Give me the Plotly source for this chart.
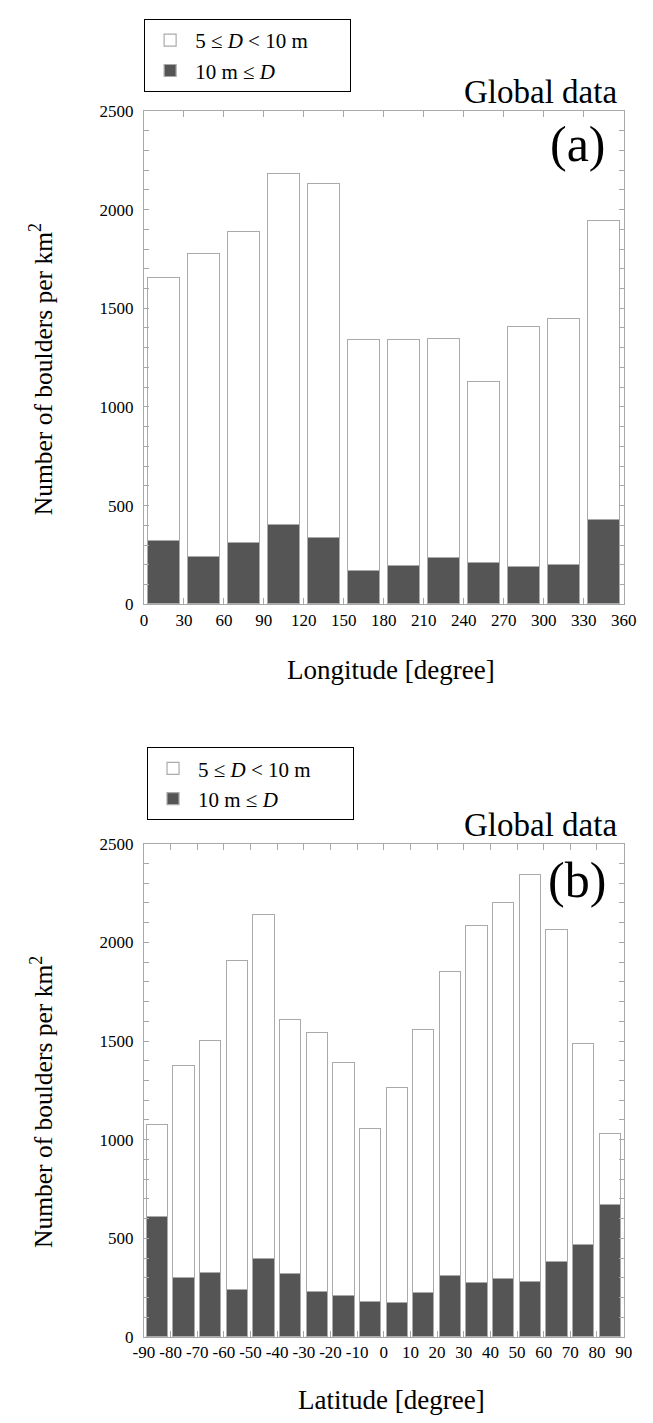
import plotly.graph_objects as go

W, H = 653, 1423

# ---------------- data ----------------
lon_centers = [15, 45, 75, 105, 135, 165, 195, 225, 255, 285, 315, 345]
lon_large = [320, 240, 313, 403, 337, 168, 195, 233, 210, 187, 200, 426]          # 10 m <= D
lon_small = [1335, 1533, 1574, 1777, 1791, 1172, 1143, 1112, 915, 1220, 1245, 1519]  # 5 <= D < 10 m (stacked part)
lon_ticks = [0, 30, 60, 90, 120, 150, 180, 210, 240, 270, 300, 330, 360]

lat_centers = [-85, -75, -65, -55, -45, -35, -25, -15, -5, 5, 15, 25, 35, 45, 55, 65, 75, 85]
lat_large = [610, 300, 328, 238, 395, 322, 232, 208, 178, 172, 225, 312, 275, 297, 278, 382, 467, 670]
lat_small = [467, 1073, 1174, 1667, 1745, 1287, 1308, 1183, 879, 1089, 1334, 1538, 1808, 1905, 2067, 1683, 1020, 362]
lat_ticks = [-90, -80, -70, -60, -50, -40, -30, -20, -10, 0, 10, 20, 30, 40, 50, 60, 70, 80, 90]

y_ticks = [0, 500, 1000, 1500, 2000, 2500]

name_small = "5 \u2264 <i>D</i> < 10 m" + "\u00a0" * 7
name_large = "10 m \u2264 <i>D</i>"

# ---------------- style ----------------
FONT = "Liberation Serif, Times New Roman, serif"
DARK = "#555555"
EDGE = "#aaaaaa"
AX = "#a8a8a8"


def px_x(x):
    return x / W


def px_y(y):
    return 1 - y / H


fig = go.Figure()

for xs, large, small, xa, ya, lg, binw in [
    (lon_centers, lon_large, lon_small, "x", "y", "legend", 30),
    (lat_centers, lat_large, lat_small, "x2", "y2", "legend2", 10),
]:
    fig.add_trace(go.Bar(
        x=xs, y=large, width=binw * 0.8, name=name_large,
        marker=dict(color=DARK, line=dict(color=EDGE, width=1.2)),
        xaxis=xa, yaxis=ya, legend=lg,
    ))
    fig.add_trace(go.Bar(
        x=xs, y=small, width=binw * 0.8, name=name_small,
        marker=dict(color="white", line=dict(color=EDGE, width=1.2)),
        xaxis=xa, yaxis=ya, legend=lg,
    ))

xdom = [px_x(138), px_x(636)]
ydom_a = [px_y(603.3), px_y(103.3)]
ydom_b = [px_y(1346), px_y(846)]

common_ax = dict(
    showline=True, linecolor=AX, linewidth=1, mirror="ticks",
    ticks="inside", tickcolor=AX, ticklen=6, tickwidth=1,
    showgrid=False, zeroline=False,
    tickfont=dict(family=FONT, size=17, color="black"),
)
common_y = dict(
    common_ax, range=[0, 2500], tickvals=y_ticks, ticklen=5,
    minor=dict(dtick=100, ticks="inside", ticklen=5, tickcolor=AX, showgrid=False),
    tickfont=dict(family=FONT, size=17, color="black"),
    ticklabelstandoff=6,
)

leg_common = dict(
    xanchor="left", yanchor="top", traceorder="reversed",
    bordercolor="black", borderwidth=1.2, bgcolor="white",
    font=dict(family=FONT, size=21, color="black"), tracegroupgap=0,
    itemwidth=40,
)

fig.update_layout(
    width=W, height=H,
    margin=dict(l=0, r=0, t=0, b=0),
    paper_bgcolor="white", plot_bgcolor="white",
    barmode="stack",
    bargap=0,
    font=dict(family=FONT, color="black"),
    xaxis=dict(common_ax, domain=xdom, anchor="y", range=[0, 360],
               tickvals=lon_ticks, ticktext=[str(v) for v in lon_ticks], tickangle=0),
    yaxis=dict(common_y, domain=ydom_a, anchor="x"),
    xaxis2=dict(common_ax, domain=xdom, anchor="y2", range=[-90, 90],
                tickvals=lat_ticks, ticktext=[str(v) for v in lat_ticks], tickangle=0),
    yaxis2=dict(common_y, domain=ydom_b, anchor="x2"),
    legend=dict(leg_common, x=px_x(138), y=px_y(10)),
    legend2=dict(leg_common, x=px_x(141), y=px_y(748)),
)

ann = []
for top_px, label, lab_off, bot_px, xtitle, xt_y in [
    (103.3, "(a)", 34, 603.3, "Longitude [degree]", 670),
    (846, "(b)", 37, 1346, "Latitude [degree]", 1410),
]:
    ann.append(dict(text="Global data", x=px_x(631), y=px_y(top_px + 1), xref="paper", yref="paper",
                    xanchor="right", yanchor="bottom", showarrow=False,
                    font=dict(family=FONT, size=33, color="black")))
    ann.append(dict(text=label, x=px_x(620), y=px_y(top_px + lab_off), xref="paper", yref="paper",
                    xanchor="right", yanchor="middle", showarrow=False,
                    font=dict(family=FONT, size=50, color="black")))
    ann.append(dict(text="Number of boulders per km<sup>2</sup>", x=px_x(32),
                    y=px_y((top_px + bot_px) / 2 + 12), xref="paper", yref="paper",
                    xanchor="center", yanchor="middle", textangle=-90, showarrow=False,
                    font=dict(family=FONT, size=25.5, color="black")))
    ann.append(dict(text=xtitle, x=px_x(395), y=px_y(xt_y), xref="paper", yref="paper",
                    xanchor="center", yanchor="middle", showarrow=False,
                    font=dict(family=FONT, size=27, color="black")))
fig.update_layout(annotations=ann)

fig.write_html("out.html")
